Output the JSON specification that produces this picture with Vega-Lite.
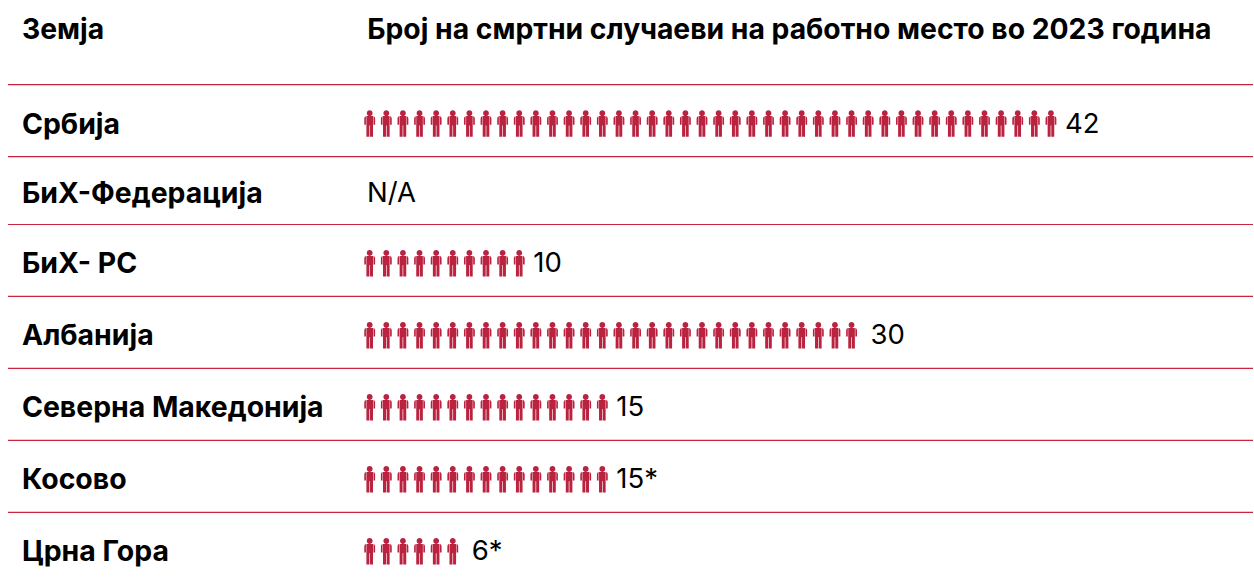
{"$schema":"https://vega.github.io/schema/vega-lite/v6.json","width":1254,"height":577,"padding":0,"autosize":{"type":"fit","contains":"padding"},"background":"#ffffff","view":{"stroke":null},
"datasets":{
"rows":[
{"country":"Србија","row":1,"count":42,"label":"42"},
{"country":"БиХ-Федерација","row":2,"count":0,"label":"N/A"},
{"country":"БиХ- РС","row":3,"count":10,"label":"10"},
{"country":"Албанија","row":4,"count":30,"label":"30"},
{"country":"Северна Македонија","row":5,"count":15,"label":"15"},
{"country":"Косово","row":6,"count":15,"label":"15*"},
{"country":"Црна Гора","row":7,"count":6,"label":"6*"}],
"rules":[{"at":0.456},{"at":1.475},{"at":2.445},{"at":3.458},{"at":4.458},{"at":5.458},{"at":6.458}],
"icons":[
{"row":1,"i":1},{"row":1,"i":2},{"row":1,"i":3},{"row":1,"i":4},{"row":1,"i":5},{"row":1,"i":6},{"row":1,"i":7},{"row":1,"i":8},{"row":1,"i":9},{"row":1,"i":10},{"row":1,"i":11},{"row":1,"i":12},{"row":1,"i":13},{"row":1,"i":14},{"row":1,"i":15},{"row":1,"i":16},{"row":1,"i":17},{"row":1,"i":18},{"row":1,"i":19},{"row":1,"i":20},{"row":1,"i":21},{"row":1,"i":22},{"row":1,"i":23},{"row":1,"i":24},{"row":1,"i":25},{"row":1,"i":26},{"row":1,"i":27},{"row":1,"i":28},{"row":1,"i":29},{"row":1,"i":30},{"row":1,"i":31},{"row":1,"i":32},{"row":1,"i":33},{"row":1,"i":34},{"row":1,"i":35},{"row":1,"i":36},{"row":1,"i":37},{"row":1,"i":38},{"row":1,"i":39},{"row":1,"i":40},{"row":1,"i":41},{"row":1,"i":42},
{"row":3,"i":1},{"row":3,"i":2},{"row":3,"i":3},{"row":3,"i":4},{"row":3,"i":5},{"row":3,"i":6},{"row":3,"i":7},{"row":3,"i":8},{"row":3,"i":9},{"row":3,"i":10},
{"row":4,"i":1},{"row":4,"i":2},{"row":4,"i":3},{"row":4,"i":4},{"row":4,"i":5},{"row":4,"i":6},{"row":4,"i":7},{"row":4,"i":8},{"row":4,"i":9},{"row":4,"i":10},{"row":4,"i":11},{"row":4,"i":12},{"row":4,"i":13},{"row":4,"i":14},{"row":4,"i":15},{"row":4,"i":16},{"row":4,"i":17},{"row":4,"i":18},{"row":4,"i":19},{"row":4,"i":20},{"row":4,"i":21},{"row":4,"i":22},{"row":4,"i":23},{"row":4,"i":24},{"row":4,"i":25},{"row":4,"i":26},{"row":4,"i":27},{"row":4,"i":28},{"row":4,"i":29},{"row":4,"i":30},
{"row":5,"i":1},{"row":5,"i":2},{"row":5,"i":3},{"row":5,"i":4},{"row":5,"i":5},{"row":5,"i":6},{"row":5,"i":7},{"row":5,"i":8},{"row":5,"i":9},{"row":5,"i":10},{"row":5,"i":11},{"row":5,"i":12},{"row":5,"i":13},{"row":5,"i":14},{"row":5,"i":15},
{"row":6,"i":1},{"row":6,"i":2},{"row":6,"i":3},{"row":6,"i":4},{"row":6,"i":5},{"row":6,"i":6},{"row":6,"i":7},{"row":6,"i":8},{"row":6,"i":9},{"row":6,"i":10},{"row":6,"i":11},{"row":6,"i":12},{"row":6,"i":13},{"row":6,"i":14},{"row":6,"i":15},
{"row":7,"i":1},{"row":7,"i":2},{"row":7,"i":3},{"row":7,"i":4},{"row":7,"i":5},{"row":7,"i":6}],
"headers":[{"text":"Земја","col":-19.93},{"text":"Број на смртни случаеви на работно место во 2023 година","col":0.85}]
},
"layer":[
{"data":{"name":"rules"},"mark":{"type":"rule","color":"#c9243f","strokeWidth":1.2},"encoding":{"y":{"field":"at","type":"quantitative","scale":{"domain":[-0.732,1,3,7,7.356],"range":[0,123.5,263.3,551.3,577],"nice":false,"zero":false},"axis":null},"x":{"datum":-20.77,"type":"quantitative","scale":{"domain":[-21.25,54.16],"nice":false,"zero":false},"axis":null},"x2":{"datum":54.16}}},
{"data":{"name":"icons"},"mark":{"type":"point","filled":true,"strokeWidth":0,"opacity":1,"color":"#ba2340","size":700,"shape":"M-0.22,-0.78A0.22,0.22 0 1 1 0.22,-0.78A0.22,0.22 0 1 1 -0.22,-0.78ZM-0.25,-0.56L0.25,-0.56L0.25,1L0.025,1L0.025,0.15L-0.025,0.15L-0.025,1L-0.25,1ZM0.285,-0.55Q0.41,-0.52 0.41,-0.38L0.41,0.1L0.285,0.1ZM-0.285,-0.55Q-0.41,-0.52 -0.41,-0.38L-0.41,0.1L-0.285,0.1Z"},"encoding":{"x":{"field":"i","type":"quantitative"},"y":{"field":"row","type":"quantitative"}}},
{"data":{"name":"rows"},"mark":{"type":"text","align":"left","baseline":"middle","dy":1,"font":"Inter","fontWeight":"bold","fontSize":28.4,"color":"#000000"},"encoding":{"x":{"datum":-19.93},"y":{"field":"row","type":"quantitative"},"text":{"field":"country"}}},
{"data":{"name":"rows"},"transform":[{"filter":"datum.label!='30' && datum.label!='6*'"}],"mark":{"type":"text","align":"left","baseline":"middle","dx":14,"dy":1,"font":"Inter","fontSize":27.5,"color":"#000000"},"encoding":{"x":{"field":"count","type":"quantitative"},"y":{"field":"row","type":"quantitative"},"text":{"field":"label"}}},
{"data":{"name":"rows"},"transform":[{"filter":"datum.label=='30' || datum.label=='6*'"}],"mark":{"type":"text","align":"left","baseline":"middle","dx":19,"dy":1,"font":"Inter","fontSize":27.5,"color":"#000000"},"encoding":{"x":{"field":"count","type":"quantitative"},"y":{"field":"row","type":"quantitative"},"text":{"field":"label"}}},
{"data":{"name":"headers"},"mark":{"type":"text","align":"left","baseline":"middle","font":"Inter","fontWeight":"bold","fontSize":28.3,"color":"#000000"},"encoding":{"x":{"field":"col","type":"quantitative"},"y":{"datum":-0.297},"text":{"field":"text"}}}
]}
